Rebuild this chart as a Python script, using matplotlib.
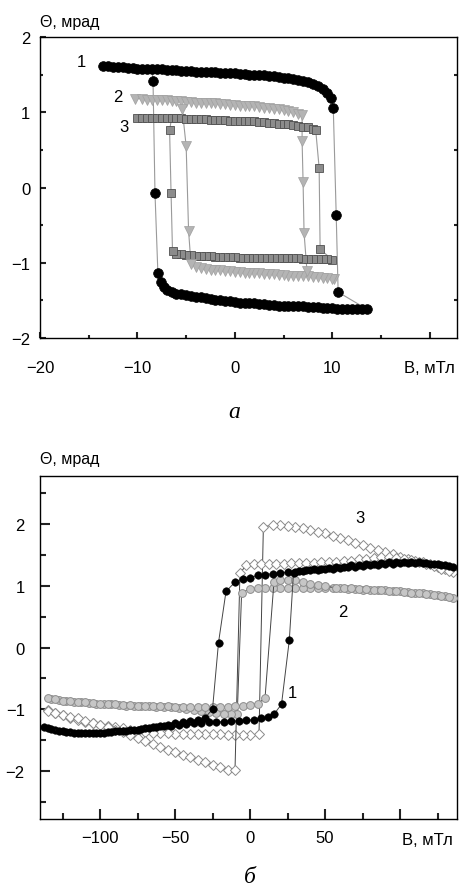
import matplotlib
matplotlib.use("Agg")
import matplotlib.pyplot as plt
from matplotlib.ticker import MultipleLocator

plt.rcParams['font.family'] = ['Liberation Sans', 'DejaVu Sans']

# ---------------- panel (a) : dense bands + switching points ----------------
# loop 1 (black circles)
a1_up_x = [-13.5, -13.0, -12.5, -12.0, -11.5, -11.0, -10.5, -10.0, -9.5, -9.0,
           -8.5, -8.0, -7.5, -7.0, -6.5, -6.0, -5.5, -5.0, -4.5, -4.0,
           -3.5, -3.0, -2.5, -2.0, -1.5, -1.0, -0.5, 0.0, 0.5, 1.0,
           1.5, 2.0, 2.5, 3.0, 3.5, 4.0, 4.5, 5.0, 5.5, 6.0,
           6.5, 7.0, 7.5, 8.0, 8.5, 9.0, 9.5, 9.9]
a1_up_y = [1.61, 1.61, 1.60, 1.60, 1.60, 1.59, 1.59, 1.58, 1.58, 1.58,
           1.57, 1.57, 1.57, 1.56, 1.56, 1.56, 1.55, 1.55, 1.55, 1.54,
           1.54, 1.53, 1.53, 1.53, 1.52, 1.52, 1.52, 1.52, 1.51, 1.51,
           1.50, 1.50, 1.49, 1.49, 1.48, 1.48, 1.47, 1.46, 1.45, 1.44,
           1.43, 1.42, 1.40, 1.38, 1.35, 1.31, 1.26, 1.19]
a1_jr_x = [10.1, 10.4, 10.6]
a1_jr_y = [1.06, -0.36, -1.39]
a1_lo_x = [13.6, 13.0, 12.5, 12.0, 11.5, 11.0, 10.5, 10.0, 9.5, 9.0,
           8.5, 8.0, 7.5, 7.0, 6.5, 6.0, 5.5, 5.0, 4.5, 4.0,
           3.5, 3.0, 2.5, 2.0, 1.5, 1.0, 0.5, 0.0, -0.5, -1.0,
           -1.5, -2.0, -2.5, -3.0, -3.5, -4.0, -4.5, -5.0, -5.5, -6.0,
           -6.5, -7.0, -7.3, -7.6]
a1_lo_y = [-1.62, -1.62, -1.62, -1.62, -1.61, -1.61, -1.61, -1.60, -1.60, -1.60,
           -1.59, -1.59, -1.59, -1.58, -1.58, -1.58, -1.57, -1.57, -1.57, -1.56,
           -1.56, -1.55, -1.55, -1.54, -1.54, -1.53, -1.53, -1.52, -1.51, -1.51,
           -1.50, -1.49, -1.48, -1.47, -1.46, -1.45, -1.44, -1.43, -1.42, -1.41,
           -1.39, -1.36, -1.32, -1.25]
a1_jl_x = [-7.9, -8.2, -8.4]
a1_jl_y = [-1.14, -0.07, 1.41]

# loop 2 (light grey triangles)
a2_up_x = [-10.2, -9.5, -9.0, -8.5, -8.0, -7.5, -7.0, -6.5, -6.0, -5.5,
           -5.0, -4.5, -4.0, -3.5, -3.0, -2.5, -2.0, -1.5, -1.0, -0.5,
           0.0, 0.5, 1.0, 1.5, 2.0, 2.5, 3.0, 3.5, 4.0, 4.5,
           5.0, 5.5, 6.0, 6.5, 6.9]
a2_up_y = [1.18, 1.18, 1.17, 1.17, 1.17, 1.16, 1.16, 1.15, 1.15, 1.15,
           1.14, 1.14, 1.13, 1.13, 1.13, 1.12, 1.12, 1.11, 1.11, 1.10,
           1.10, 1.09, 1.09, 1.08, 1.08, 1.07, 1.06, 1.06, 1.05, 1.04,
           1.03, 1.02, 1.00, 0.98, 0.96]
a2_jr_x = [6.9, 7.0, 7.1, 7.4]
a2_jr_y = [0.62, 0.08, -0.60, -1.11]
a2_lo_x = [-4.5, -4.0, -3.5, -3.0, -2.5, -2.0, -1.5, -1.0, -0.5, 0.0,
           0.5, 1.0, 1.5, 2.0, 2.5, 3.0, 3.5, 4.0, 4.5, 5.0,
           5.5, 6.0, 6.5, 7.0, 7.5, 8.0, 8.5, 9.0, 9.5, 10.0, 10.2]
a2_lo_y = [-1.02, -1.05, -1.07, -1.08, -1.09, -1.10, -1.10, -1.11, -1.11, -1.12,
           -1.12, -1.13, -1.13, -1.14, -1.14, -1.15, -1.15, -1.15, -1.16, -1.16,
           -1.17, -1.17, -1.17, -1.18, -1.18, -1.19, -1.19, -1.20, -1.20, -1.21, -1.21]
a2_jl_x = [-4.75, -5.0, -5.4]
a2_jl_y = [-0.58, 0.55, 1.04]

# loop 3 (dark grey squares)
a3_up_x = [-10.0, -9.5, -9.0, -8.5, -8.0, -7.5, -7.0, -6.5, -6.0, -5.5,
           -5.0, -4.5, -4.0, -3.5, -3.0, -2.5, -2.0, -1.5, -1.0, -0.5,
           0.0, 0.5, 1.0, 1.5, 2.0, 2.5, 3.0, 3.5, 4.0, 4.5,
           5.0, 5.5, 6.0, 6.5, 7.0, 7.5, 8.0, 8.3]
a3_up_y = [0.93, 0.93, 0.93, 0.93, 0.93, 0.92, 0.92, 0.92, 0.92, 0.92,
           0.91, 0.91, 0.91, 0.91, 0.91, 0.90, 0.90, 0.90, 0.90, 0.89,
           0.89, 0.89, 0.88, 0.88, 0.88, 0.87, 0.87, 0.86, 0.86, 0.85,
           0.85, 0.84, 0.83, 0.82, 0.81, 0.80, 0.78, 0.76]
a3_jr_x = [8.65, 8.75]
a3_jr_y = [0.26, -0.82]
a3_lo_x = [-6.4, -6.0, -5.5, -5.0, -4.5, -4.0, -3.5, -3.0, -2.5, -2.0,
           -1.5, -1.0, -0.5, 0.0, 0.5, 1.0, 1.5, 2.0, 2.5, 3.0,
           3.5, 4.0, 4.5, 5.0, 5.5, 6.0, 6.5, 7.0, 7.5, 8.0,
           8.5, 9.0, 9.5, 10.0]
a3_lo_y = [-0.85, -0.88, -0.89, -0.90, -0.90, -0.91, -0.91, -0.91, -0.91, -0.92,
           -0.92, -0.92, -0.92, -0.92, -0.93, -0.93, -0.93, -0.93, -0.93, -0.93,
           -0.94, -0.94, -0.94, -0.94, -0.94, -0.94, -0.94, -0.95, -0.95, -0.95,
           -0.95, -0.95, -0.95, -0.96]
a3_jl_x = [-6.55, -6.7]
a3_jl_y = [-0.07, 0.76]

# ---------------- panel (б) : field sweeps down / up ----------------
b1_dn_x = [135, 130, 125, 120, 115, 110, 105, 100, 95, 90, 85, 80, 75, 70, 65,
           60, 55, 50, 45, 40, 35, 30, 25, 20, 15, 10, 5, 0, -5, -10, -16,
           -21,
           -25, -30, -35, -40, -45, -50, -55, -60, -65, -70, -75, -80, -85,
           -90, -95, -100, -105, -110, -115, -120, -125, -130, -135]
b1_dn_y = [1.31, 1.33, 1.35, 1.36, 1.37, 1.37, 1.37, 1.37, 1.36, 1.35, 1.34,
           1.33, 1.32, 1.31, 1.30, 1.29, 1.28, 1.27, 1.26, 1.25, 1.24, 1.23,
           1.22, 1.21, 1.20, 1.18, 1.17, 1.13, 1.11, 1.06, 0.91,
           0.08,
           -1.00, -1.14, -1.17, -1.19, -1.21, -1.23, -1.25, -1.27, -1.29, -1.31,
           -1.33, -1.34, -1.35, -1.36, -1.37, -1.38, -1.38, -1.38, -1.38, -1.37,
           -1.35, -1.33, -1.30]
b1_up_x = [-137.5, -132.5, -127.5, -122.5, -117.5, -112.5, -107.5, -102.5,
           -97.5, -92.5, -87.5, -82.5, -77.5, -72.5, -67.5, -62.5, -57.5,
           -52.5, -47.5, -42.5, -37.5, -32.5, -27.5, -22.5, -17.5, -12.5,
           -7.5, -2.5, 2.5, 7.5, 12, 16,
           21, 26.2,
           29, 32.5, 37.5, 42.5, 47.5, 52.5, 57.5, 62.5, 67.5, 72.5, 77.5,
           82.5, 87.5, 92.5, 97.5, 102.5, 107.5, 112.5, 117.5, 122.5, 127.5, 132.5]
b1_up_y = [-1.29, -1.32, -1.35, -1.37, -1.38, -1.39, -1.39, -1.39, -1.38, -1.37,
           -1.36, -1.35, -1.34, -1.32, -1.31, -1.29, -1.28, -1.27, -1.25, -1.24,
           -1.23, -1.22, -1.21, -1.21, -1.20, -1.19, -1.19, -1.18, -1.17, -1.15,
           -1.12, -1.08,
           -0.92, 0.12,
           1.21, 1.24, 1.26, 1.27, 1.28, 1.29, 1.30, 1.31, 1.33, 1.34, 1.35,
           1.36, 1.37, 1.38, 1.39, 1.39, 1.39, 1.38, 1.37, 1.36, 1.34, 1.32]

b2_dn_x = [135, 130, 125, 120, 115, 110, 105, 100, 95, 90, 85, 80, 75, 70, 65,
           60, 55, 50, 45, 40, 35, 30, 25, 20, 15, 10, 5, 0, -5.6,
           -8.5, -12.5, -17.5, -22.5, -27.5, -32.5, -37.5, -42.5, -47.5,
           -52.5, -57.5, -62.5, -67.5, -72.5, -77.5, -82.5, -87.5, -92.5,
           -97.5, -102.5, -107.5, -112.5, -117.5, -122.5, -127.5, -132.5]
b2_dn_y = [0.81, 0.83, 0.85, 0.86, 0.88, 0.89, 0.90, 0.91, 0.92, 0.93, 0.93,
           0.94, 0.94, 0.95, 0.95, 0.96, 0.96, 0.96, 0.97, 0.97, 0.97, 0.97,
           0.97, 0.97, 0.96, 0.96, 0.96, 0.95, 0.89,
           -1.08, -1.08, -1.07, -1.06, -1.05, -1.03, -1.01, -0.99, -0.98,
           -0.97, -0.96, -0.96, -0.95, -0.95, -0.94, -0.94, -0.93, -0.92,
           -0.92, -0.91, -0.90, -0.89, -0.88, -0.87, -0.85, -0.83]
b2_up_x = [-135, -130, -125, -120, -115, -110, -105, -100, -95, -90, -85, -80,
           -75, -70, -65, -60, -55, -50, -45, -40, -35, -30, -25, -20, -15,
           -10, -5, 0, 5, 10,
           16, 20, 25, 30, 35, 40, 45, 50,
           57.5, 62.5, 67.5, 72.5, 77.5, 82.5, 87.5, 92.5, 97.5, 102.5,
           107.5, 112.5, 117.5, 122.5, 127.5, 132.5]
b2_up_y = [-0.82, -0.84, -0.86, -0.87, -0.88, -0.89, -0.90, -0.91, -0.92, -0.92,
           -0.93, -0.93, -0.94, -0.94, -0.95, -0.95, -0.95, -0.96, -0.96, -0.96,
           -0.96, -0.96, -0.96, -0.96, -0.96, -0.95, -0.94, -0.93, -0.91, -0.82,
           1.07, 1.09, 1.10, 1.09, 1.06, 1.03, 1.01, 0.99,
           0.97, 0.96, 0.96, 0.95, 0.95, 0.94, 0.93, 0.92, 0.91, 0.90,
           0.89, 0.88, 0.87, 0.85, 0.84, 0.82]

b3_dn_x = [135, 130, 125, 120, 115, 110, 105, 100, 95, 90, 85, 80, 75, 70, 65,
           60, 55, 50, 45, 40, 35, 30, 25, 20, 15, 8.9,
           6, 0, -5, -10, -15, -20, -25, -30, -35, -40, -45, -50, -55, -60,
           -65, -70, -75, -80, -85, -90, -95, -100, -105, -110, -115, -120,
           -125, -130, -135]
b3_dn_y = [1.22, 1.27, 1.31, 1.35, 1.38, 1.41, 1.44, 1.47, 1.51, 1.55, 1.58,
           1.62, 1.66, 1.70, 1.74, 1.78, 1.81, 1.85, 1.88, 1.91, 1.93, 1.95,
           1.97, 1.98, 1.99, 1.95,
           -1.40, -1.42, -1.42, -1.41, -1.41, -1.40, -1.40, -1.40, -1.40, -1.40,
           -1.40, -1.40, -1.39, -1.39, -1.38, -1.37, -1.35, -1.33, -1.31, -1.29,
           -1.27, -1.25, -1.23, -1.20, -1.17, -1.14, -1.10, -1.06, -1.01]
b3_up_x = [-135, -130, -125, -120, -115, -110, -105, -100, -95, -90, -85, -80,
           -75, -70, -65, -60, -55, -50, -45, -40, -35, -30, -25, -20, -15, -10,
           -6.7, -2.5, 2.5, 7.5, 12.5, 17.5, 22.5, 27.5, 32.5, 37.5, 42.5,
           47.5, 52.5, 57.5, 62.5, 67.5, 72.5, 77.5, 82.5, 87.5, 92.5, 97.5,
           102.5, 107.5, 112.5, 117.5, 122.5, 127.5, 132.5]
b3_up_y = [-1.03, -1.06, -1.09, -1.12, -1.15, -1.19, -1.22, -1.25, -1.29, -1.33,
           -1.37, -1.42, -1.46, -1.51, -1.56, -1.61, -1.66, -1.70, -1.74, -1.78,
           -1.82, -1.86, -1.90, -1.94, -1.98, -1.98,
           1.21, 1.33, 1.35, 1.36, 1.36, 1.36, 1.36, 1.37, 1.37, 1.37, 1.37,
           1.38, 1.38, 1.39, 1.40, 1.41, 1.43, 1.44, 1.45, 1.46, 1.46, 1.45,
           1.44, 1.42, 1.39, 1.36, 1.32, 1.28, 1.24]

fig = plt.figure(figsize=(4.62, 8.87), dpi=100)
ax1 = fig.add_axes([0.0866, 0.6178, 0.9026, 0.3393])
ax2 = fig.add_axes([0.0866, 0.0755, 0.9026, 0.3867])

line_col = '#9a9a9a'


def draw_loop(ax, up_x, up_y, jr_x, jr_y, lo_x, lo_y, jl_x, jl_y, i_close, **mk):
    # thin connecting line around the loop, markers on top
    px = up_x + jr_x + lo_x + jl_x + [up_x[i_close]]
    py = up_y + jr_y + lo_y + jl_y + [up_y[i_close]]
    ax.plot(px, py, '-', color=line_col, lw=0.8, zorder=2)
    ax.plot(up_x + lo_x + jr_x + jl_x, up_y + lo_y + jr_y + jl_y,
            ls='none', zorder=3, **mk)


draw_loop(ax1, a3_up_x, a3_up_y, a3_jr_x, a3_jr_y, a3_lo_x[::-1], a3_lo_y[::-1],
          a3_jl_x, a3_jl_y, 7, marker='s', ms=5.8, mfc='#8c8c8c',
          mec='#505050', mew=0.6)
draw_loop(ax1, a2_up_x, a2_up_y, a2_jr_x, a2_jr_y, a2_lo_x[::-1], a2_lo_y[::-1],
          a2_jl_x, a2_jl_y, 9, marker='v', ms=6.6, mfc='#b4b4b4',
          mec='#a0a0a0', mew=0.5)
draw_loop(ax1, a1_up_x, a1_up_y, a1_jr_x, a1_jr_y, a1_lo_x, a1_lo_y,
          a1_jl_x, a1_jl_y, 10, marker='o', ms=7, mfc='black',
          mec='black', mew=0.5)

ax1.set_xlim(-20, 22.8)
ax1.set_ylim(-2, 2)
ax1.xaxis.set_minor_locator(MultipleLocator(5))
ax1.yaxis.set_minor_locator(MultipleLocator(0.5))
ax1.set_xticks([-20, -10, 0, 10, 20])
ax1.set_xticklabels(['\u221220', '\u221210', '0', '10', 'B, мТл'])
ax1.set_yticks([-2, -1, 0, 1, 2])
ax1.set_yticklabels(['\u22122', '\u22121', '0', '1', '2'])
ax1.tick_params(which='both', direction='in', top=False, right=False,
                labelsize=12, width=1.5, color='#222222')
ax1.tick_params(which='major', length=4.5)
ax1.tick_params(which='minor', length=2.5, right=True)
ax1.tick_params(axis='x', pad=16)
ax1.tick_params(axis='y', pad=7)
for s in ax1.spines.values():
    s.set_linewidth(1.0)

ax1.text(-15.8, 1.67, '1', fontsize=12, ha='center', va='center')
ax1.text(-12.0, 1.21, '2', fontsize=12, ha='center', va='center')
ax1.text(-11.4, 0.81, '3', fontsize=12, ha='center', va='center')

# panel б
ax2.plot(b3_dn_x, b3_dn_y, '-', color='#444444', lw=0.7, marker='D', ms=5,
         mfc='white', mec='#8a8a8a', mew=0.7, zorder=2)
ax2.plot(b3_up_x, b3_up_y, '-', color='#444444', lw=0.7, marker='D', ms=5,
         mfc='white', mec='#8a8a8a', mew=0.7, zorder=2)
ax2.plot(b2_dn_x, b2_dn_y, '-', color='#444444', lw=0.7, marker='o', ms=5.6,
         mfc='#c6c6c6', mec='#8c8c8c', mew=0.7, zorder=3)
ax2.plot(b2_up_x, b2_up_y, '-', color='#444444', lw=0.7, marker='o', ms=5.6,
         mfc='#c6c6c6', mec='#8c8c8c', mew=0.7, zorder=3)
ax2.plot(b1_dn_x, b1_dn_y, '-', color='#444444', lw=0.7, marker='o', ms=5.4,
         mfc='black', mec='black', mew=0.4, zorder=4)
ax2.plot(b1_up_x, b1_up_y, '-', color='#444444', lw=0.7, marker='o', ms=5.4,
         mfc='black', mec='black', mew=0.4, zorder=4)

ax2.set_xlim(-140, 138)
ax2.set_ylim(-2.78, 2.78)
ax2.xaxis.set_minor_locator(MultipleLocator(25))
ax2.set_xticks([-100, -50, 0, 50, 100])
ax2.set_xticklabels(['\u2212100', '\u221250', '0', '50', ''])
ax2.yaxis.set_minor_locator(MultipleLocator(0.5))
ax2.set_yticks([-2, -1, 0, 1, 2])
ax2.set_yticklabels(['\u22122', '\u22121', '0', '1', '2'])
ax2.tick_params(which='both', direction='in', top=False, right=False,
                labelsize=12, width=1.5, color='#222222')
ax2.tick_params(which='major', length=7)
ax2.tick_params(which='minor', length=4.5)
ax2.tick_params(axis='x', pad=8)
ax2.tick_params(axis='y', pad=11)
for s in ax2.spines.values():
    s.set_linewidth(1.0)
ax2.text(118, -0.06, 'B, мТл', fontsize=12, ha='center', va='center',
         transform=ax2.get_xaxis_transform())

ax2.text(73, 2.11, '3', fontsize=12, ha='center', va='center')
ax2.text(62, 0.58, '2', fontsize=12, ha='center', va='center')
ax2.text(28, -0.73, '1', fontsize=12, ha='center', va='center')

fig.text(40 / 462, 1 - 22 / 887, 'Θ, мрад', fontsize=11.5, ha='left', va='center')
fig.text(40 / 462, 1 - 460 / 887, 'Θ, мрад', fontsize=11.5, ha='left', va='center')
fig.text(234 / 462, 1 - 413 / 887, 'a', fontsize=17, family='Liberation Serif',
         style='italic', ha='center', va='center')
fig.text(250 / 462, 1 - 878 / 887, 'б', fontsize=17, family='Liberation Serif',
         style='italic', ha='center', va='center')

fig.savefig('out.png', dpi=100)
